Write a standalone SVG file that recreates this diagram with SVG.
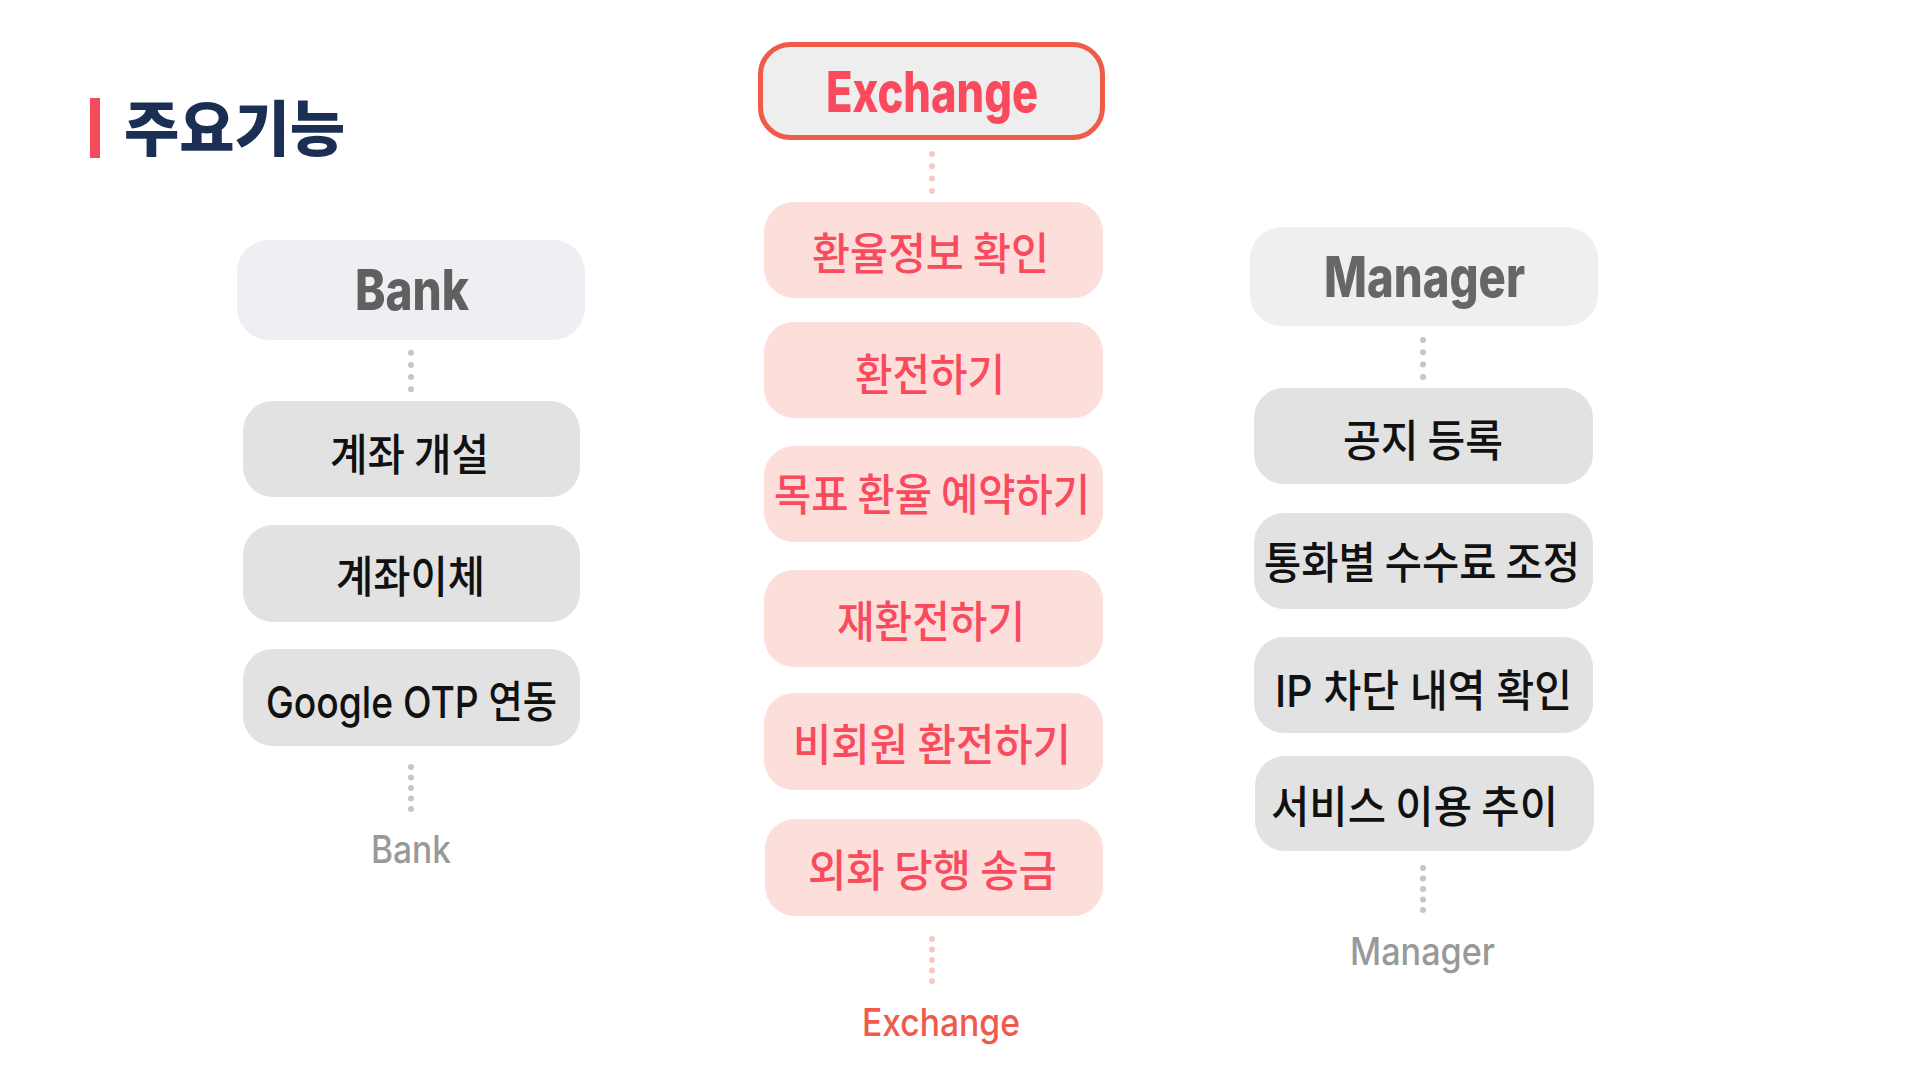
<svg xmlns="http://www.w3.org/2000/svg" width="1920" height="1080" viewBox="0 0 1920 1080">
<style>
.lat{font-family:Inter,"Noto Sans","Noto Sans CJK KR",sans-serif}
.kr{font-family:"Noto Sans CJK KR","Noto Sans",sans-serif}
.mix{font-family:Inter,"Noto Sans CJK KR",sans-serif}
.hdr{font-size:56px;font-weight:800}
.itm{font-size:44px;font-weight:500}
.lbl{font-size:38px;font-weight:500}
.gbox{fill:#e2e2e2}
.pbox{fill:#fcdedb}
.ptxt{fill:#f94b5e}
.btxt{fill:#111111}
.gdot{stroke:#c6c6c6;stroke-width:6;stroke-linecap:round;fill:none}
.pdot{stroke:#f8c8c4;stroke-width:6;stroke-linecap:round;fill:none}
</style>
<rect width="1920" height="1080" fill="#ffffff"/>
<g id="title">
<rect x="90" y="98" width="10" height="60" fill="#f44b5a"/>
<text x="124" y="151" class="kr" font-size="60" font-weight="900" fill="#1b2f55" textLength="221" lengthAdjust="spacingAndGlyphs">주요기능</text>
</g>
<g id="connectors">
<line class="gdot" x1="411" y1="352.7" x2="411" y2="390.5" stroke-dasharray="0 12.2"/>
<line class="pdot" x1="932" y1="154" x2="932" y2="192" stroke-dasharray="0 12.3"/>
<line class="gdot" x1="1423" y1="340" x2="1423" y2="378" stroke-dasharray="0 12.3"/>
<line class="gdot" x1="411" y1="767" x2="411" y2="810" stroke-dasharray="0 10.5"/>
<line class="pdot" x1="932" y1="939" x2="932" y2="982" stroke-dasharray="0 10.5"/>
<line class="gdot" x1="1423" y1="868" x2="1423" y2="911" stroke-dasharray="0 10.5"/>
</g>
<g id="bank-header">
<rect x="237" y="240" width="348" height="100" rx="32" fill="#eeeff2"/>
<text x="355" y="310" class="lat hdr" fill="#606060" textLength="114" lengthAdjust="spacingAndGlyphs">Bank</text>
</g>
<g id="bank-1"><rect class="gbox" x="243" y="401" width="337" height="96" rx="30"/><text x="330" y="471" class="kr itm btxt" textLength="159" lengthAdjust="spacingAndGlyphs">계좌 개설</text></g>
<g id="bank-2"><rect class="gbox" x="243" y="525" width="337" height="97" rx="30"/><text x="336" y="593" class="kr itm btxt" textLength="149" lengthAdjust="spacingAndGlyphs">계좌이체</text></g>
<g id="bank-3"><rect class="gbox" x="243" y="649" width="337" height="97" rx="30"/><text x="266" y="718" class="mix itm btxt" textLength="291" lengthAdjust="spacingAndGlyphs">Google OTP 연동</text></g>
<g id="bank-label"><text x="371" y="863" class="lat lbl" fill="#999999" textLength="80" lengthAdjust="spacingAndGlyphs">Bank</text></g>

<g id="exchange-header">
<rect x="760.5" y="44.5" width="342" height="93" rx="30" fill="#eeeeee" stroke="#f05b49" stroke-width="5"/>
<text x="826" y="112" class="lat hdr" fill="#fb4a5e" textLength="212" lengthAdjust="spacingAndGlyphs">Exchange</text>
</g>
<g id="ex-1"><rect class="pbox" x="764" y="202" width="339" height="96" rx="30"/><text x="812" y="270" class="kr itm ptxt" textLength="237" lengthAdjust="spacingAndGlyphs">환율정보 확인</text></g>
<g id="ex-2"><rect class="pbox" x="764" y="322" width="339" height="96" rx="30"/><text x="855" y="391" class="kr itm ptxt" textLength="150" lengthAdjust="spacingAndGlyphs">환전하기</text></g>
<g id="ex-3"><rect class="pbox" x="764" y="446" width="339" height="96" rx="30"/><text x="774" y="511" class="kr itm ptxt" textLength="316" lengthAdjust="spacingAndGlyphs">목표 환율 예약하기</text></g>
<g id="ex-4"><rect class="pbox" x="764" y="570" width="339" height="97" rx="30"/><text x="837" y="638" class="kr itm ptxt" textLength="188" lengthAdjust="spacingAndGlyphs">재환전하기</text></g>
<g id="ex-5"><rect class="pbox" x="764" y="693" width="339" height="97" rx="30"/><text x="793" y="761" class="kr itm ptxt" textLength="278" lengthAdjust="spacingAndGlyphs">비회원 환전하기</text></g>
<g id="ex-6"><rect class="pbox" x="765" y="819" width="338" height="97" rx="30"/><text x="808" y="887" class="kr itm ptxt" textLength="249" lengthAdjust="spacingAndGlyphs">외화 당행 송금</text></g>
<g id="exchange-label"><text x="862" y="1036" class="lat lbl" fill="#f05a4a" font-weight="600" textLength="158" lengthAdjust="spacingAndGlyphs">Exchange</text></g>

<g id="manager-header">
<rect x="1250" y="227" width="348" height="99" rx="32" fill="#efefef"/>
<text x="1324" y="297" class="lat hdr" fill="#666666" textLength="201" lengthAdjust="spacingAndGlyphs">Manager</text>
</g>
<g id="mg-1"><rect class="gbox" x="1254" y="388" width="339" height="96" rx="30"/><text x="1343" y="457" class="kr itm btxt" textLength="160" lengthAdjust="spacingAndGlyphs">공지 등록</text></g>
<g id="mg-2"><rect class="gbox" x="1254" y="513" width="339" height="96" rx="30"/><text x="1264" y="579" class="kr itm btxt" textLength="316" lengthAdjust="spacingAndGlyphs">통화별 수수료 조정</text></g>
<g id="mg-3"><rect class="gbox" x="1254" y="637" width="339" height="96" rx="30"/><text x="1275" y="707" class="mix itm btxt" textLength="297" lengthAdjust="spacingAndGlyphs">IP 차단 내역 확인</text></g>
<g id="mg-4"><rect class="gbox" x="1255" y="756" width="339" height="95" rx="30"/><text x="1271" y="823" class="kr itm btxt" textLength="287" lengthAdjust="spacingAndGlyphs">서비스 이용 추이</text></g>
<g id="manager-label"><text x="1350" y="965" class="lat lbl" fill="#999999" textLength="145" lengthAdjust="spacingAndGlyphs">Manager</text></g>
</svg>
